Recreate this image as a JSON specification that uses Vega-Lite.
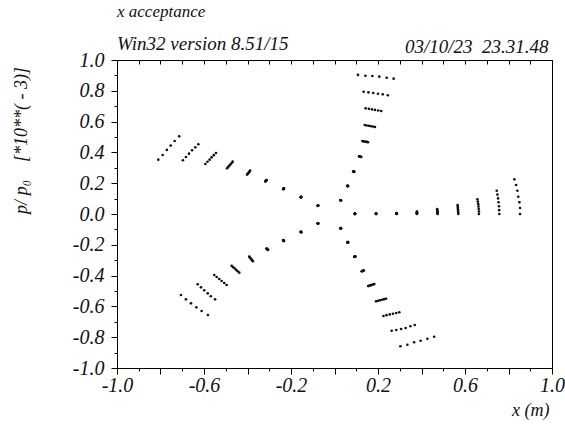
{
"$schema": "https://vega.github.io/schema/vega-lite/v6.json",
"width": 435, "height": 308,
"autosize": "none",
"padding": {"left": 117, "top": 60, "right": 13, "bottom": 56},
"background": "white",
"title": {"text": "x acceptance", "subtitle": "Win32 version 8.51/15", "anchor": "start", "frame": "group", "font": "Liberation Serif", "fontStyle": "italic", "fontWeight": "normal", "fontSize": 17, "color": "#111", "subtitleFont": "Liberation Serif", "subtitleFontStyle": "italic", "subtitleFontSize": 19, "subtitleColor": "#111", "subtitlePadding": 14, "offset": -18},
"config": {"view": {"stroke": "#000", "strokeWidth": 1}, "axis": {"labelOverlap": false, "labelSeparation": 0}},
"data": {"values": [
{"x":0.094,"y":0.002},{"x":0.094,"y":0.002},{"x":0.094,"y":0.001},{"x":0.094,"y":0.001},{"x":0.094,"y":0.001},{"x":0.094,"y":0},{"x":0.094,"y":0},
{"x":0.191,"y":0.003},{"x":0.191,"y":0.0025},{"x":0.191,"y":0.002},{"x":0.191,"y":0.0015},{"x":0.191,"y":0.001},{"x":0.191,"y":0.0005},{"x":0.191,"y":0},
{"x":0.286,"y":0.006},{"x":0.286,"y":0.005},{"x":0.286,"y":0.004},{"x":0.286,"y":0.003},{"x":0.286,"y":0.002},{"x":0.286,"y":0.001},{"x":0.286,"y":0},
{"x":0.379,"y":0.015},{"x":0.379,"y":0.0125},{"x":0.379,"y":0.01},{"x":0.379,"y":0.0075},{"x":0.379,"y":0.005},{"x":0.379,"y":0.0025},{"x":0.379,"y":0},
{"x":0.472,"y":0.032},{"x":0.472,"y":0.027},{"x":0.473,"y":0.021},{"x":0.473,"y":0.016},{"x":0.473,"y":0.011},{"x":0.474,"y":0.005},{"x":0.474,"y":0},
{"x":0.566,"y":0.058},{"x":0.567,"y":0.048},{"x":0.567,"y":0.039},{"x":0.568,"y":0.029},{"x":0.568,"y":0.019},{"x":0.569,"y":0.01},{"x":0.569,"y":0},
{"x":0.657,"y":0.096},{"x":0.659,"y":0.08},{"x":0.661,"y":0.064},{"x":0.662,"y":0.048},{"x":0.663,"y":0.032},{"x":0.664,"y":0.016},{"x":0.664,"y":0},
{"x":0.746,"y":0.151},{"x":0.749,"y":0.126},{"x":0.752,"y":0.101},{"x":0.754,"y":0.076},{"x":0.756,"y":0.05},{"x":0.757,"y":0.025},{"x":0.758,"y":0},
{"x":0.827,"y":0.225},{"x":0.835,"y":0.188},{"x":0.841,"y":0.151},{"x":0.845,"y":0.112},{"x":0.85,"y":0.076},{"x":0.853,"y":0.039},{"x":0.853,"y":0},
{"x":0.027,"y":0.089},{"x":0.028,"y":0.089},{"x":0.028,"y":0.089},{"x":0.029,"y":0.089},{"x":0.029,"y":0.089},{"x":0.03,"y":0.088},
{"x":0.059,"y":0.183},{"x":0.06,"y":0.183},{"x":0.06,"y":0.182},{"x":0.061,"y":0.182},{"x":0.062,"y":0.182},{"x":0.062,"y":0.181},
{"x":0.086,"y":0.276},{"x":0.087,"y":0.276},{"x":0.088,"y":0.275},{"x":0.089,"y":0.275},{"x":0.09,"y":0.274},{"x":0.091,"y":0.274},
{"x":0.113,"y":0.375},{"x":0.115,"y":0.374},{"x":0.117,"y":0.373},{"x":0.119,"y":0.372},{"x":0.121,"y":0.371},{"x":0.123,"y":0.37},
{"x":0.128,"y":0.474},{"x":0.133,"y":0.472},{"x":0.138,"y":0.471},{"x":0.144,"y":0.469},{"x":0.149,"y":0.468},{"x":0.154,"y":0.466},
{"x":0.139,"y":0.578},{"x":0.148,"y":0.575},{"x":0.158,"y":0.573},{"x":0.167,"y":0.57},{"x":0.177,"y":0.568},{"x":0.186,"y":0.565},
{"x":0.143,"y":0.686},{"x":0.158,"y":0.683},{"x":0.172,"y":0.679},{"x":0.186,"y":0.676},{"x":0.201,"y":0.672},{"x":0.215,"y":0.669},
{"x":0.134,"y":0.794},{"x":0.156,"y":0.79},{"x":0.178,"y":0.786},{"x":0.2,"y":0.781},{"x":0.222,"y":0.777},{"x":0.245,"y":0.771},
{"x":0.108,"y":0.903},{"x":0.142,"y":0.898},{"x":0.174,"y":0.896},{"x":0.206,"y":0.892},{"x":0.24,"y":0.885},{"x":0.272,"y":0.879},
{"x":-0.077,"y":0.053},{"x":-0.077,"y":0.053},{"x":-0.076,"y":0.054},{"x":-0.076,"y":0.054},{"x":-0.075,"y":0.055},{"x":-0.075,"y":0.055},
{"x":-0.155,"y":0.108},{"x":-0.155,"y":0.109},{"x":-0.154,"y":0.109},{"x":-0.154,"y":0.11},{"x":-0.153,"y":0.111},{"x":-0.153,"y":0.112},
{"x":-0.236,"y":0.161},{"x":-0.235,"y":0.162},{"x":-0.234,"y":0.164},{"x":-0.234,"y":0.165},{"x":-0.233,"y":0.166},{"x":-0.232,"y":0.167},
{"x":-0.318,"y":0.211},{"x":-0.317,"y":0.213},{"x":-0.316,"y":0.215},{"x":-0.314,"y":0.217},{"x":-0.313,"y":0.219},{"x":-0.312,"y":0.221},
{"x":-0.402,"y":0.256},{"x":-0.399,"y":0.261},{"x":-0.396,"y":0.266},{"x":-0.393,"y":0.271},{"x":-0.391,"y":0.276},{"x":-0.388,"y":0.282},
{"x":-0.494,"y":0.297},{"x":-0.489,"y":0.306},{"x":-0.483,"y":0.314},{"x":-0.478,"y":0.323},{"x":-0.473,"y":0.331},{"x":-0.468,"y":0.34},
{"x":-0.594,"y":0.325},{"x":-0.584,"y":0.339},{"x":-0.574,"y":0.353},{"x":-0.565,"y":0.368},{"x":-0.555,"y":0.382},{"x":-0.545,"y":0.396},
{"x":-0.697,"y":0.349},{"x":-0.683,"y":0.37},{"x":-0.669,"y":0.392},{"x":-0.655,"y":0.414},{"x":-0.64,"y":0.433},{"x":-0.626,"y":0.453},
{"x":-0.81,"y":0.353},{"x":-0.79,"y":0.383},{"x":-0.771,"y":0.416},{"x":-0.753,"y":0.444},{"x":-0.735,"y":0.474},{"x":-0.714,"y":0.505},
{"x":-0.077,"y":-0.06},{"x":-0.077,"y":-0.06},{"x":-0.076,"y":-0.061},{"x":-0.076,"y":-0.061},{"x":-0.075,"y":-0.062},{"x":-0.075,"y":-0.062},
{"x":-0.155,"y":-0.115},{"x":-0.155,"y":-0.116},{"x":-0.154,"y":-0.117},{"x":-0.154,"y":-0.117},{"x":-0.153,"y":-0.118},{"x":-0.153,"y":-0.119},
{"x":-0.236,"y":-0.17},{"x":-0.235,"y":-0.171},{"x":-0.234,"y":-0.172},{"x":-0.233,"y":-0.174},{"x":-0.233,"y":-0.175},{"x":-0.232,"y":-0.176},
{"x":-0.313,"y":-0.224},{"x":-0.311,"y":-0.226},{"x":-0.31,"y":-0.228},{"x":-0.308,"y":-0.23},{"x":-0.307,"y":-0.232},{"x":-0.305,"y":-0.234},
{"x":-0.392,"y":-0.277},{"x":-0.389,"y":-0.283},{"x":-0.385,"y":-0.289},{"x":-0.382,"y":-0.295},{"x":-0.378,"y":-0.301},{"x":-0.375,"y":-0.307},
{"x":-0.473,"y":-0.336},{"x":-0.466,"y":-0.345},{"x":-0.459,"y":-0.354},{"x":-0.452,"y":-0.363},{"x":-0.445,"y":-0.372},{"x":-0.438,"y":-0.381},
{"x":-0.553,"y":-0.396},{"x":-0.542,"y":-0.409},{"x":-0.53,"y":-0.422},{"x":-0.519,"y":-0.435},{"x":-0.507,"y":-0.448},{"x":-0.496,"y":-0.461},
{"x":-0.629,"y":-0.456},{"x":-0.614,"y":-0.476},{"x":-0.599,"y":-0.495},{"x":-0.583,"y":-0.515},{"x":-0.569,"y":-0.534},{"x":-0.549,"y":-0.554},
{"x":-0.706,"y":-0.526},{"x":-0.683,"y":-0.554},{"x":-0.66,"y":-0.58},{"x":-0.635,"y":-0.606},{"x":-0.611,"y":-0.63},{"x":-0.582,"y":-0.656},
{"x":0.027,"y":-0.093},{"x":0.028,"y":-0.093},{"x":0.028,"y":-0.093},{"x":0.029,"y":-0.093},{"x":0.029,"y":-0.092},{"x":0.03,"y":-0.092},
{"x":0.059,"y":-0.185},{"x":0.06,"y":-0.185},{"x":0.06,"y":-0.184},{"x":0.061,"y":-0.184},{"x":0.062,"y":-0.183},{"x":0.062,"y":-0.183},
{"x":0.091,"y":-0.278},{"x":0.092,"y":-0.278},{"x":0.093,"y":-0.277},{"x":0.094,"y":-0.277},{"x":0.095,"y":-0.276},{"x":0.096,"y":-0.276},
{"x":0.125,"y":-0.372},{"x":0.127,"y":-0.371},{"x":0.129,"y":-0.37},{"x":0.131,"y":-0.369},{"x":0.133,"y":-0.368},{"x":0.135,"y":-0.367},
{"x":0.155,"y":-0.468},{"x":0.161,"y":-0.465},{"x":0.166,"y":-0.463},{"x":0.172,"y":-0.46},{"x":0.177,"y":-0.458},{"x":0.183,"y":-0.455},
{"x":0.191,"y":-0.567},{"x":0.2,"y":-0.564},{"x":0.209,"y":-0.56},{"x":0.219,"y":-0.557},{"x":0.228,"y":-0.553},{"x":0.237,"y":-0.55},
{"x":0.225,"y":-0.662},{"x":0.239,"y":-0.657},{"x":0.254,"y":-0.652},{"x":0.269,"y":-0.648},{"x":0.284,"y":-0.643},{"x":0.298,"y":-0.638},
{"x":0.263,"y":-0.758},{"x":0.284,"y":-0.753},{"x":0.306,"y":-0.747},{"x":0.327,"y":-0.74},{"x":0.349,"y":-0.729},{"x":0.369,"y":-0.721},
{"x":0.303,"y":-0.859},{"x":0.335,"y":-0.849},{"x":0.366,"y":-0.833},{"x":0.396,"y":-0.823},{"x":0.427,"y":-0.81},{"x":0.458,"y":-0.797}
]},
"layer": [
{"mark": {"type": "point", "filled": true, "size": 7, "color": "#111", "opacity": 1},
 "encoding": {
  "x": {"field": "x", "type": "quantitative", "scale": {"domain": [-1, 1], "nice": false, "zero": false},
   "axis": {"orient": "bottom", "values": [-1,-0.9,-0.8,-0.7,-0.6,-0.5,-0.4,-0.3,-0.2,-0.1,0,0.1,0.2,0.3,0.4,0.5,0.6,0.7,0.8,0.9,1],
    "labelExpr": "(round(datum.value*10)+10)%4==0 ? replace(format(datum.value,'.1f'),'−','-') : ''",
    "tickSize": {"condition": {"test": "round(datum.value*10)%2==0", "value": 6}, "value": 3},
    "grid": false, "domainColor": "#000", "tickColor": "#000", "labelColor": "#111",
    "labelFont": "Liberation Serif", "labelFontStyle": "italic", "labelFontSize": 20, "labelPadding": 1, "labelFlush": false, "labelOverlap": false,
    "title": "x (m)", "titleFont": "Liberation Serif", "titleFontStyle": "italic", "titleFontWeight": "normal", "titleFontSize": 18, "titleColor": "#111",
    "titleAnchor": "end", "titleAlign": "right", "titleBaseline": "alphabetic", "titleX": 432, "titleY": 47}},
  "y": {"field": "y", "type": "quantitative", "scale": {"domain": [-1, 1], "nice": false, "zero": false},
   "axis": {"orient": "left", "values": [-1,-0.9,-0.8,-0.7,-0.6,-0.5,-0.4,-0.3,-0.2,-0.1,0,0.1,0.2,0.3,0.4,0.5,0.6,0.7,0.8,0.9,1],
    "labelExpr": "abs(round(datum.value*10))%2==0 ? replace(format(datum.value,'.1f'),'−','-') : ''",
    "tickSize": {"condition": {"test": "abs(round(datum.value*10))%2==0", "value": 6}, "value": 3},
    "grid": false, "domainColor": "#000", "tickColor": "#000", "labelColor": "#111",
    "labelFont": "Liberation Serif", "labelFontStyle": "italic", "labelFontSize": 20, "labelPadding": 7, "labelFlush": false, "labelOverlap": false, "labelSeparation": 0,
    "title": "p/ p₀\u00a0\u00a0\u00a0\u00a0[*10**( - 3)]", "titleFont": "Liberation Serif", "titleFontStyle": "italic", "titleFontWeight": "normal", "titleFontSize": 18, "titleColor": "#111",
    "titleAngle": 270, "titleAlign": "center", "titleBaseline": "middle", "titleX": -96, "titleY": 80}}
 }},
{"mark": {"type": "point", "opacity": 0},
 "encoding": {
  "x": {"field": "x", "type": "quantitative", "scale": {"domain": [-1, 1], "nice": false, "zero": false},
   "axis": {"orient": "top", "values": [-1,-0.9,-0.8,-0.7,-0.6,-0.5,-0.4,-0.3,-0.2,-0.1,0,0.1,0.2,0.3,0.4,0.5,0.6,0.7,0.8,0.9,1],
    "labels": false, "tickSize": -4, "grid": false, "domainColor": "#000", "tickColor": "#000",
    "title": "03/10/23\u00a0\u00a023.31.48", "titleFont": "Liberation Serif", "titleFontStyle": "italic", "titleFontWeight": "normal", "titleFontSize": 19, "titleColor": "#111",
    "titleAnchor": "end", "titleAlign": "right", "titleBaseline": "alphabetic", "titleX": 431, "titleY": -8}}
 }}
],
"resolve": {"axis": {"x": "independent"}}
}
